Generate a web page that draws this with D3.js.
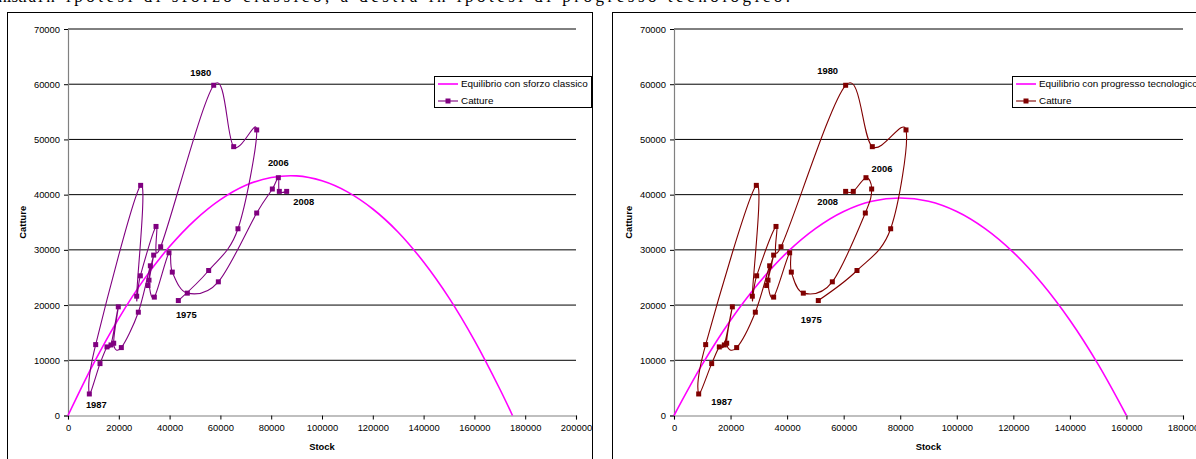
<!DOCTYPE html>
<html><head><meta charset="utf-8">
<script src="https://cdn.jsdelivr.net/npm/d3@7"></script>
<style>
body{margin:0;background:#fff;overflow:hidden}
svg{display:block}
text{font-family:Arial,"Liberation Sans",sans-serif}
</style>
</head><body>
<svg id="c" width="1196" height="459"></svg>
<script>
// ---- data ----
const years = [1975,1976,1977,1978,1979,1980,1981,1982,1983,1984,1985,1986,1987,1988,1989,1990,1991,1992,1993,1994,1995,1996,1997,1998,1999,2000,2001,2002,2003,2004,2005,2006,2007,2008];
const catture = [20820,26260,33820,51720,48690,59810,30560,34240,25300,21610,41680,12840,3900,9400,12420,12780,19680,13090,12300,18710,27110,23540,29050,24510,21440,29470,25970,22160,24210,36670,41020,43070,40590,40590];
const stockClassico = [43440,55380,66920,74290,65230,57360,36480,34650,28480,27040,28600,10900,8400,12600,15350,16930,19800,17990,21000,27690,32420,31500,33730,31890,33990,39760,41060,46980,59190,74290,80450,82810,83200,86090];
const stockProgresso = [51030,64710,76620,82040,70130,60700,37840,36070,29230,27700,29110,11200,8730,13320,16030,17800,20630,18630,22160,28760,33830,32770,35240,33240,35240,40900,41490,45730,55990,67660,69900,67890,63400,60700];

const eqStockClassico = [0,10000,20000,30000,40000,50000,60000,70000,80000,90000,100000,110000,120000,130000,140000,150000,160000,170000,175000];
const eqCatchClassico = [0,9350,17600,24700,30600,35400,39100,41700,43100,43400,42500,40500,37400,33200,27800,21300,13600,4800,0];
const eqStockProgresso = [0,10000,20000,30000,40000,50000,60000,70000,80000,90000,100000,110000,120000,130000,140000,150000,160000];
const eqCatchProgresso = [0,9250,17250,24000,29550,33850,36950,38800,39400,38800,36950,33850,29550,24000,17250,9250,0];

const yTicks = [0,10000,20000,30000,40000,50000,60000,70000];
const xTicksClassico = [0,20000,40000,60000,80000,100000,120000,140000,160000,180000,200000];
const xTicksProgresso = [0,20000,40000,60000,80000,100000,120000,140000,160000,180000];
const labeledYears = [1975,1980,1987,2006,2008];

const captionHead = "Figura: a sinistra ";
const captionText = "in ipotesi di sforzo classico, a destra in ipotesi di progresso tecnologico.";

// ---- drawing ----
const svg = d3.select("#c");

const capStyle = s => s.style("font-family","'Liberation Serif','Times New Roman',serif").style("font-size","17px");
svg.append("text").attr("x", 36).attr("y", 2).attr("text-anchor","end").call(capStyle).text(captionHead);
svg.append("text").attr("x", 38).attr("y", 2).attr("textLength", 752).attr("lengthAdjust","spacing")
  .call(capStyle).text(captionText);

function panel(cfg){
  const g = svg.append("g");
  g.append("rect").attr("x",cfg.frame[0]+0.5).attr("y",cfg.frame[1]+0.5)
    .attr("width",cfg.frame[2]).attr("height",cfg.frame[3])
    .attr("fill","#fff").attr("stroke","#000").attr("stroke-width",1);

  const x = d3.scaleLinear().domain([0,cfg.xMax]).range(cfg.xr);
  const y = d3.scaleLinear().domain([0,70000]).range(cfg.yr);

  // gridlines
  g.append("g").selectAll("line").data(yTicks.filter(d=>d>0)).join("line")
    .attr("x1",cfg.xr[0]).attr("x2",cfg.xr[1])
    .attr("y1",d=>y(d)).attr("y2",d=>y(d))
    .attr("stroke","#000").attr("stroke-width",1);

  // axes
  const yAxis = d3.axisLeft(y).tickValues(yTicks).tickSize(4).tickPadding(4).tickFormat(d3.format("d"));
  const ya = g.append("g").attr("transform",`translate(${cfg.xr[0]},0)`).call(yAxis);
  const xAxis = d3.axisBottom(x).tickValues(cfg.xTicks).tickSize(4).tickPadding(5).tickFormat(d3.format("d"));
  const xa = g.append("g").attr("transform",`translate(0,${cfg.yr[0]})`).call(xAxis);
  [ya,xa].forEach(a=>{
    a.select(".domain").attr("stroke","#808080").attr("stroke-width",1.2);
    a.selectAll(".tick line").attr("stroke","#000");
    a.selectAll(".tick text").style("font-size","9.4px").attr("fill","#000");
  });

  // axis titles
  g.append("text").attr("x",(cfg.xr[0]+cfg.xr[1])/2).attr("y",450)
    .attr("text-anchor","middle").style("font-size","9.4px").style("font-weight","bold").text("Stock");
  g.append("text").attr("transform",`translate(${cfg.yTitleX},${(cfg.yr[0]+cfg.yr[1])/2}) rotate(-90)`)
    .attr("text-anchor","middle").style("font-size","9.4px").style("font-weight","bold").text("Catture");

  // equilibrium curve
  const eq = cfg.eqX.map((s,i)=>[s,cfg.eqY[i]]);
  g.append("path").datum(eq)
    .attr("d", d3.line().x(d=>x(d[0])).y(d=>y(d[1])).curve(d3.curveCatmullRom))
    .attr("fill","none").attr("stroke","#ff00ff").attr("stroke-width",1.6);

  // catches series
  const pts = years.map((yr,i)=>({year:yr, s:cfg.stock[i], c:catture[i]}));
  g.append("path").datum(pts)
    .attr("d", d3.line().x(d=>x(d.s)).y(d=>y(d.c)).curve(d3.curveCatmullRom.alpha(0)))
    .attr("fill","none").attr("stroke",cfg.color).attr("stroke-width",1.1);
  g.append("g").selectAll("rect").data(pts).join("rect")
    .attr("x",d=>x(d.s)-2.5).attr("y",d=>y(d.c)-2.5).attr("width",5).attr("height",5)
    .attr("fill",cfg.color);

  // year labels
  g.append("g").selectAll("text").data(pts.filter(d=>labeledYears.includes(d.year))).join("text")
    .attr("x",d=>x(d.s)+cfg.lab[d.year][0]).attr("y",d=>y(d.c)+cfg.lab[d.year][1])
    .attr("text-anchor","middle").attr("dy","0.35em")
    .style("font-size","9.4px").style("font-weight","bold").text(d=>d.year);

  // legend
  const L = cfg.legend;
  const lg = g.append("g");
  lg.append("rect").attr("x",L[0]+0.5).attr("y",L[1]+0.5).attr("width",L[2]).attr("height",31)
    .attr("fill","#fff").attr("stroke","#000");
  lg.append("line").attr("x1",L[0]+4).attr("x2",L[0]+24).attr("y1",L[1]+8).attr("y2",L[1]+8)
    .attr("stroke","#ff00ff").attr("stroke-width",1.6);
  lg.append("text").attr("x",L[0]+27).attr("y",L[1]+8).attr("dy","0.35em").style("font-size","9.9px").text(cfg.eqName);
  lg.append("line").attr("x1",L[0]+4).attr("x2",L[0]+24).attr("y1",L[1]+25).attr("y2",L[1]+25)
    .attr("stroke",cfg.color).attr("stroke-width",1.1);
  lg.append("rect").attr("x",L[0]+11.5).attr("y",L[1]+22.5).attr("width",5).attr("height",5).attr("fill",cfg.color);
  lg.append("text").attr("x",L[0]+27).attr("y",L[1]+25).attr("dy","0.35em").style("font-size","9.9px").text("Catture");
}

panel({
  frame:[7,12,585,470], xr:[68,576], yr:[415.5,29], xMax:200000, xTicks:xTicksClassico,
  yTitleX:26, stock:stockClassico, color:"#800080",
  eqX:eqStockClassico, eqY:eqCatchClassico, eqName:"Equilibrio con sforzo classico",
  legend:[434,76,157],
  lab:{1975:[8,14],1980:[-13,-13],1987:[7,11],2006:[0,-15],2008:[17,10]}
});
panel({
  frame:[612,12,620,470], xr:[674,1183], yr:[415.5,29], xMax:180000, xTicks:xTicksProgresso,
  yTitleX:632, stock:stockProgresso, color:"#800000",
  eqX:eqStockProgresso, eqY:eqCatchProgresso, eqName:"Equilibrio con progresso tecnologico",
  legend:[1012,76,200],
  lab:{1975:[-7,19],1980:[-18,-15],1987:[23,8],2006:[16,-9],2008:[-18,10]}
});
</script>
</body></html>
